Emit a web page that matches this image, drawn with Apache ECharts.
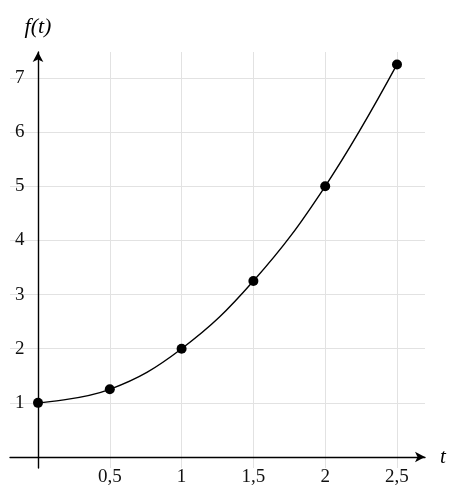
<!DOCTYPE html>
<html>
<head>
<meta charset="utf-8">
<script src="https://cdn.jsdelivr.net/npm/echarts@6/dist/echarts.min.js"></script>
<style>
  html, body { margin:0; padding:0; background:#fff; }
  #chart { width:451px; height:487px; }
</style>
</head>
<body>
<div id="chart"></div>
<script type="text/javascript">
// data
var tValues = [0, 0.5, 1, 1.5, 2, 2.5];
var fValues = [1, 1.25, 2, 3.25, 5, 7.25];
var xTicks = [0.5, 1, 1.5, 2, 2.5];
var yTicks = [1, 2, 3, 4, 5, 6, 7];

var points = [];
for (var i = 0; i < tValues.length; i++) {
  points.push([tValues[i], fValues[i]]);
}

var serif = 'Liberation Serif';
var myChart = echarts.init(document.getElementById('chart'));
var option = {
  animation: false,
  grid: { left: 10, right: 26, top: 52, bottom: 19, containLabel: false, outerBoundsMode: 'none' },
  xAxis: {
    type: 'value',
    min: -0.195,
    max: 2.695,
    name: 't',
    nameLocation: 'end',
    nameGap: 15,
    nameTextStyle: { fontFamily: serif, fontStyle: 'italic', fontSize: 21, color: '#000' },
    axisLine: { onZero: true, symbol: ['none', 'arrow'], symbolSize: [8, 10],
      lineStyle: { color: '#000', width: 1.4 } },
    axisTick: { show: false, customValues: xTicks },
    axisLabel: { customValues: xTicks, margin: 0, fontFamily: serif, fontSize: 19, color: '#111',
      formatter: function (v) { return String(v).replace('.', ','); } },
    splitLine: { show: true, lineStyle: { color: '#e2e2e2', width: 1 } }
  },
  yAxis: {
    type: 'value',
    min: -0.203,
    max: 7.48,
    name: 'f(t)',
    nameLocation: 'end',
    nameGap: 14,
    nameTextStyle: { fontFamily: serif, fontStyle: 'italic', fontSize: 22, color: '#000' },
    axisLine: { onZero: true, symbol: ['none', 'arrow'], symbolSize: [8, 10],
      lineStyle: { color: '#000', width: 1.4 } },
    axisTick: { show: false, customValues: yTicks },
    axisLabel: { customValues: yTicks, inside: true, margin: 5, fontFamily: serif, fontSize: 19, color: '#111' },
    splitLine: { show: true, lineStyle: { color: '#e2e2e2', width: 1 } }
  },
  series: [{
    type: 'line',
    data: points,
    smooth: 0.4,
    symbol: 'circle',
    symbolSize: 10,
    itemStyle: { color: '#000' },
    lineStyle: { color: '#000', width: 1.4 },
    clip: false
  }]
};
myChart.setOption(option);
</script>
</body>
</html>
